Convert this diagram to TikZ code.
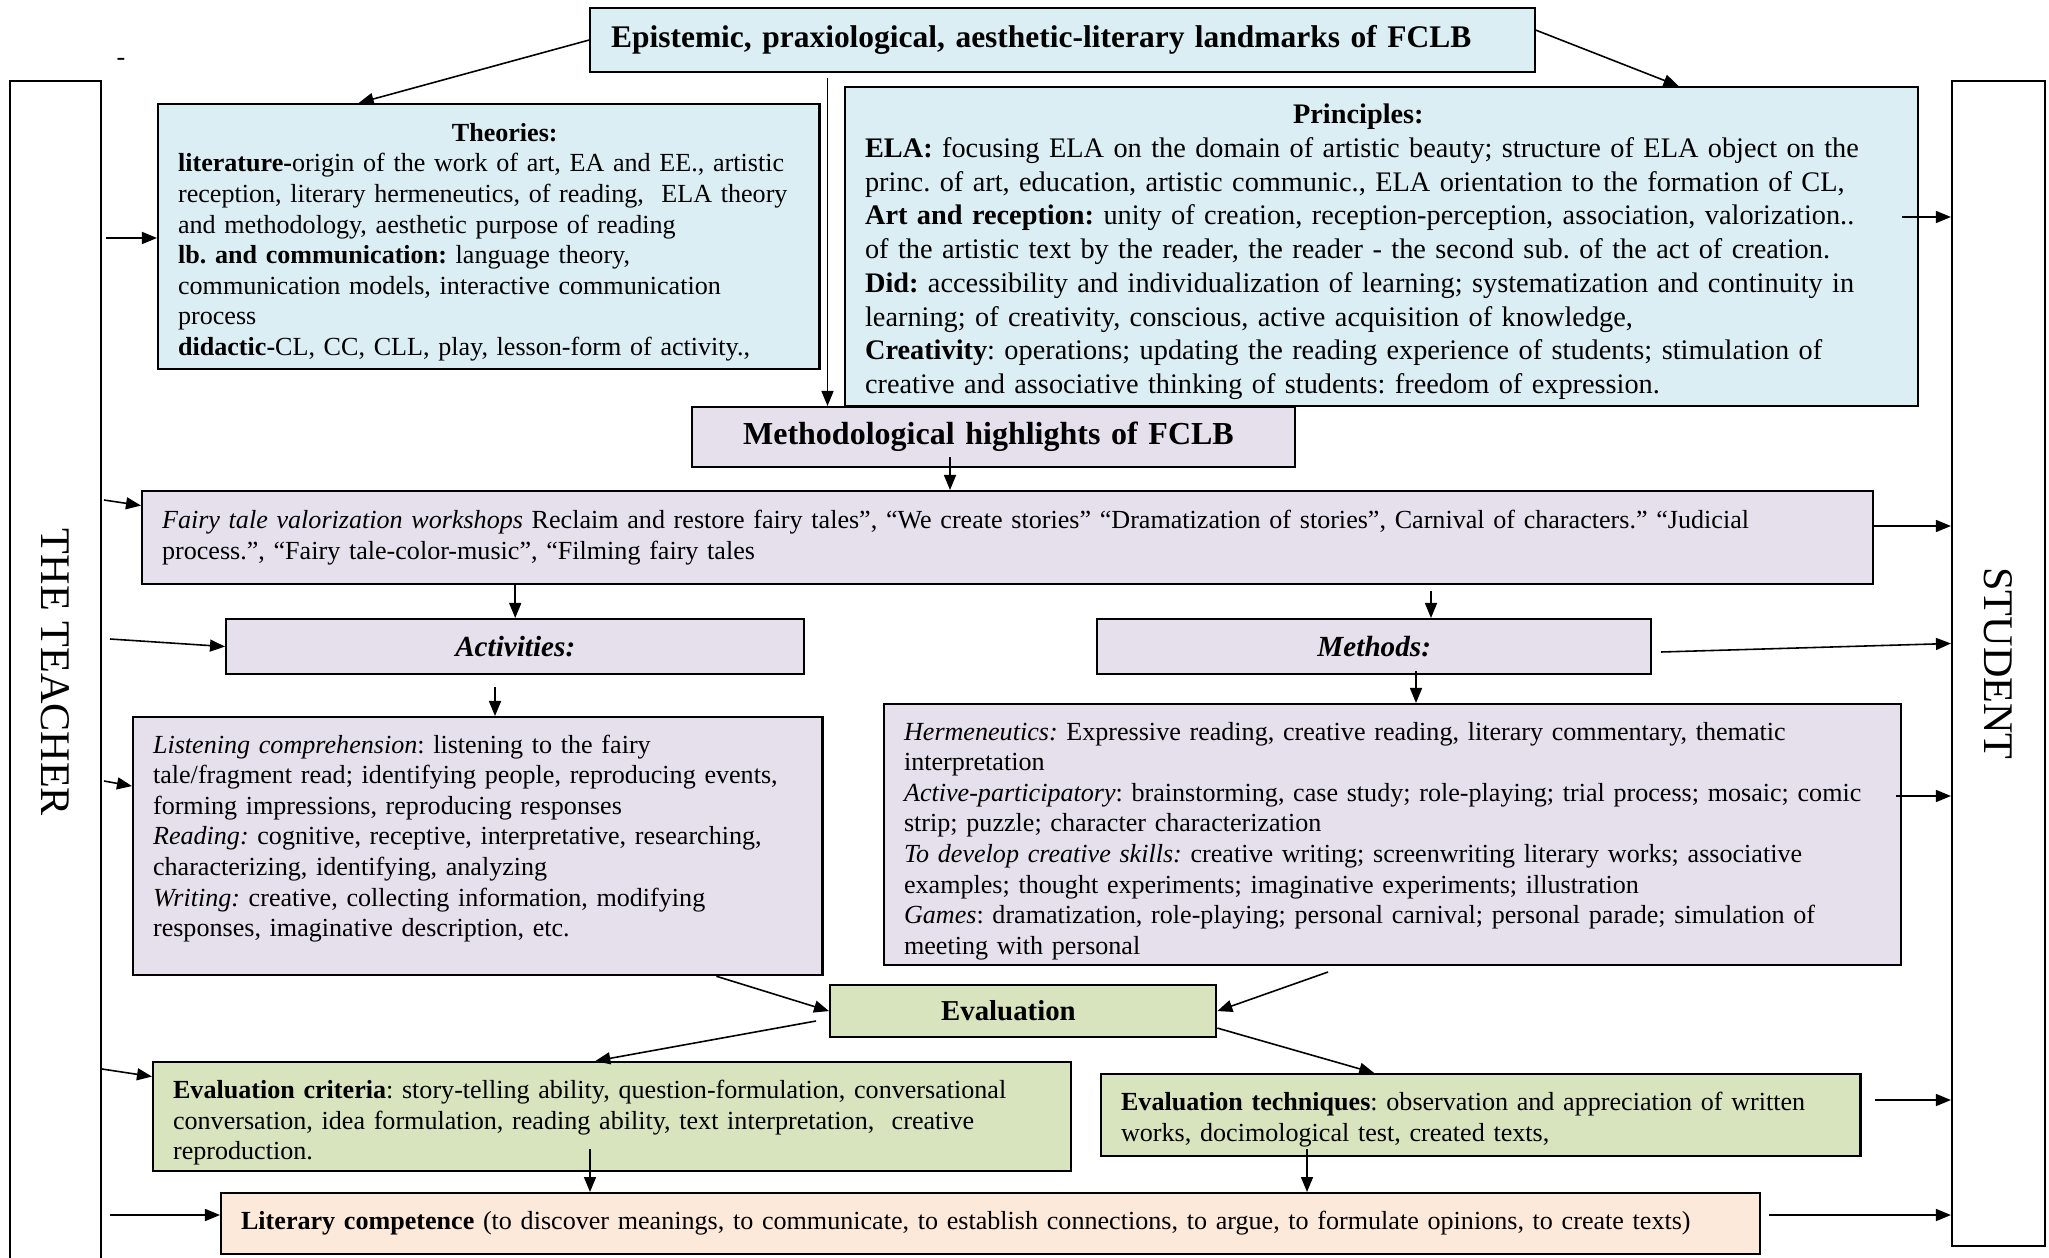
\documentclass[tikz,border=0pt]{standalone}
\usepackage{fontspec}
\setmainfont{Liberation Serif}
\usepackage{graphicx}
\usetikzlibrary{arrows.meta}
\frenchspacing

\definecolor{lightblue}{HTML}{DAEEF3}
\definecolor{lavender}{HTML}{E5E0EC}
\definecolor{palegreen}{HTML}{D7E4BD}
\definecolor{peach}{HTML}{FDE9D9}

\tikzset{
    box/.style={draw, line width=0.6pt, anchor=north west, inner xsep=0.2cm, inner ysep=0.05cm,
        align=left, font=\fontsize{7.42}{8.7}\selectfont},
    title/.style={draw, line width=0.6pt, anchor=north west, inner sep=0pt, align=center,
        font=\fontsize{9.1}{10.5}\selectfont\bfseries},
    side/.style={draw, line width=0.6pt, fill=white, inner sep=0pt,
        font=\fontsize{12}{14}\selectfont},
    arr/.style={line width=0.45pt, -{Triangle[length=0.15cm,width=0.12cm]}}
}

\begin{document}
\begin{tikzpicture}[x=0.01cm, y=-0.01cm]
    \useasboundingbox (0,0) rectangle (2049,1258);

    \node[side, minimum width=0.91cm, minimum height=11.83cm] (teacher) at (55.5,672.5) {\rotatebox{-90}{THE TEACHER}};
    \node[side, minimum width=0.93cm, minimum height=11.65cm] (student) at (1998.5,663.5) {\rotatebox{-90}{STUDENT}};
    \node[font=\fontsize{7.42}{8.7}\selectfont] (hyph) at (121,62) {-};

    \node[title, fill=lightblue, minimum height=0.64cm, inner xsep=0.21cm, text width=9.02cm, align=left,
        font=\fontsize{8.95}{10.5}\selectfont\bfseries] (landmarks) at (589,7)
        {Epistemic, praxiological, aesthetic-literary landmarks of FCLB};
    \node[box, fill=lightblue, text width=6.21cm, minimum height=2.65cm] (theories) at (157,103) {%
        \rule{0pt}{0.29cm}\makebox[\linewidth]{\hspace{0.32cm}\textbf{Theories:}}\\
        \textbf{literature-}origin of the work of art, EA and EE., artistic\\
        reception, literary hermeneutics, of reading, \ ELA theory\\
        and methodology, aesthetic purpose of reading\\
        \textbf{lb. and communication:} language theory,\\
        communication models, interactive communication\\
        process\\
        \textbf{didactic-}CL, CC, CLL, play, lesson-form of activity.,};
    \node[box, fill=lightblue, text width=10.32cm, minimum height=3.19cm, font=\fontsize{8.05}{9.6}\selectfont] (principles) at (844,86) {%
        \rule{0pt}{0.3cm}\makebox[\linewidth]{\textbf{Principles:}\hspace{0.46cm}}\\
        \textbf{ELA:} focusing ELA on the domain of artistic beauty; structure of ELA object on the\\
        princ. of art, education, artistic communic., ELA orientation to the formation of CL,\\
        \textbf{Art and reception:} unity of creation, reception-perception, association, valorization..\\
        of the artistic text by the reader, the reader - the second sub. of the act of creation.\\
        \textbf{Did:} accessibility and individualization of learning; systematization and continuity in\\
        learning; of creativity, conscious, active acquisition of knowledge,\\
        \textbf{Creativity}: operations; updating the reading experience of students; stimulation of\\
        creative and associative thinking of students: freedom of expression.};

    \node[title, fill=lavender, minimum width=6.03cm, minimum height=0.6cm, inner xsep=0.51cm, text width=5.01cm, align=left] (method) at (691,406)
        {Methodological highlights of FCLB};
    \node[box, fill=lavender, text width=16.9cm, minimum height=0.93cm] (fairy) at (141,490) {%
        \textit{Fairy tale valorization workshops} Reclaim and restore fairy tales”, “We create stories” “Dramatization of stories”, Carnival of characters.” “Judicial\\
        process.”, “Fairy tale-color-music”, “Filming fairy tales};
    \node[title, fill=lavender, minimum width=5.78cm, minimum height=0.55cm, font=\fontsize{8.3}{9.6}\selectfont\bfseries\itshape] (activ) at (225,618) {Activities:};
    \node[title, fill=lavender, minimum width=5.54cm, minimum height=0.55cm, font=\fontsize{8.3}{9.6}\selectfont\bfseries\itshape] (methods) at (1096,618) {Methods:};
    \node[box, fill=lavender, text width=6.49cm, minimum height=2.58cm] (listen) at (132,716) {%
        \textit{Listening comprehension}: listening to the fairy\\
        tale/fragment read; identifying people, reproducing events,\\
        forming impressions, reproducing responses\\
        \textit{Reading:} cognitive, receptive, interpretative, researching,\\
        characterizing, identifying, analyzing\\
        \textit{Writing:} creative, collecting information, modifying\\
        responses, imaginative description, etc.\rule[-0.21cm]{0pt}{0.21cm}};
    \node[box, fill=lavender, text width=9.76cm, minimum height=2.6cm] (herm) at (883,703) {%
        \rule{0pt}{0.31cm}\textit{Hermeneutics:} Expressive reading, creative reading, literary commentary, thematic\\
        interpretation\\
        \textit{Active-participatory}: brainstorming, case study; role-playing; trial process; mosaic; comic\\
        strip; puzzle; character characterization\\
        \textit{To develop creative skills:} creative writing; screenwriting literary works; associative\\
        examples; thought experiments; imaginative experiments; illustration\\
        \textit{Games}: dramatization, role-playing; personal carnival; personal parade; simulation of\\
        meeting with personal};

    \node[title, fill=palegreen, minimum width=3.86cm, minimum height=0.52cm, inner xsep=1.11cm, text width=1.64cm, align=left,
        font=\fontsize{8.2}{9.5}\selectfont\bfseries] (evalu) at (829,984) {Evaluation};
    \node[box, fill=palegreen, text width=8.77cm, minimum height=1.09cm] (crit) at (152,1061) {%
        \rule{0pt}{0.31cm}\textbf{Evaluation criteria}: story-telling ability, question-formulation, conversational\\
        conversation, idea formulation, reading ability, text interpretation, \ creative\\
        reproduction.};
    \node[box, fill=palegreen, text width=7.19cm, minimum height=0.82cm] (techn) at (1100,1073) {%
        \rule{0pt}{0.27cm}\textbf{Evaluation techniques}: observation and appreciation of written\\
        works, docimological test, created texts,};
    \node[box, fill=peach, text width=14.98cm, minimum height=0.61cm] (liter) at (220,1192) {%
        \textbf{Literary competence} (to discover meanings, to communicate, to establish connections, to argue, to formulate opinions, to create texts)};

    % free ends of the connectors
    \coordinate (tc1) at (106,238);
    \coordinate (tc2) at (104,500);
    \coordinate (tc3) at (110,639);
    \coordinate (tc4) at (104,781);
    \coordinate (tc5) at (102,1069);
    \coordinate (tc6) at (110,1215);
    \coordinate (sp1) at (1902,217);
    \coordinate (sf1) at (1873,526);
    \coordinate (sm1) at (1661,652);
    \coordinate (sh1) at (1896,796);
    \coordinate (st1) at (1875,1100);
    \coordinate (sl1) at (1769,1215);
    \coordinate (dv1) at (827.5,78);
    \coordinate (dh2) at (950,457);
    \coordinate (dm1) at (1431,591);
    \coordinate (da1) at (495,687);
    \coordinate (dm2) at (1416,671);
    \coordinate (dh1) at (1328,972);
    \coordinate (de1) at (816,1021);
    \coordinate (dc1) at (590,1149);
    \coordinate (dt1) at (1307,1149);

    \path[arr] (landmarks.west) edge ([xshift=-1.3cm]theories.north);
    \path[arr] ([yshift=0.1cm]landmarks.east) edge ([xshift=2.97cm]principles.north);
    \path[arr] (dv1) edge (dv1 |- method.north);
    \path[arr] (dh2) edge (dh2 |- fairy.north);
    \path[arr] (fairy.south -| activ.north) edge (activ.north);
    \path[arr] (dm1) edge (dm1 |- methods.north);
    \path[arr] (da1) edge (da1 |- listen.north);
    \path[arr] (dm2) edge (dm2 |- herm.north);
    \path[arr] ([xshift=2.385cm]listen.south) edge (evalu.west);
    \path[arr] (dh1) edge (evalu.east);
    \path[arr] (de1) edge ([xshift=-0.165cm]crit.north);
    \path[arr] ([yshift=-0.17cm]evalu.east) edge ([xshift=-1.065cm]techn.north);
    \path[arr] (dc1) edge (dc1 |- liter.north);
    \path[arr] (dt1) edge (dt1 |- liter.north);

    % the teacher side
    \path[arr] (tc1) edge (tc1 -| theories.west);
    \path[arr] (tc2) edge ([yshift=0.32cm]fairy.west);
    \path[arr] (tc3) edge (activ.west);
    \path[arr] (tc4) edge ([yshift=0.6cm]listen.west);
    \path[arr] (tc5) edge ([yshift=0.4cm]crit.west);
    \path[arr] (tc6) edge (tc6 -| liter.west);
    % the student side
    \path[arr] (sp1) edge (sp1 -| student.west);
    \path[arr] (sf1) edge (sf1 -| student.west);
    \path[arr] (sm1) edge ([yshift=0.2cm]student.west);
    \path[arr] (sh1) edge (sh1 -| student.west);
    \path[arr] (st1) edge (st1 -| student.west);
    \path[arr] (sl1) edge (sl1 -| student.west);
\end{tikzpicture}
\end{document}
